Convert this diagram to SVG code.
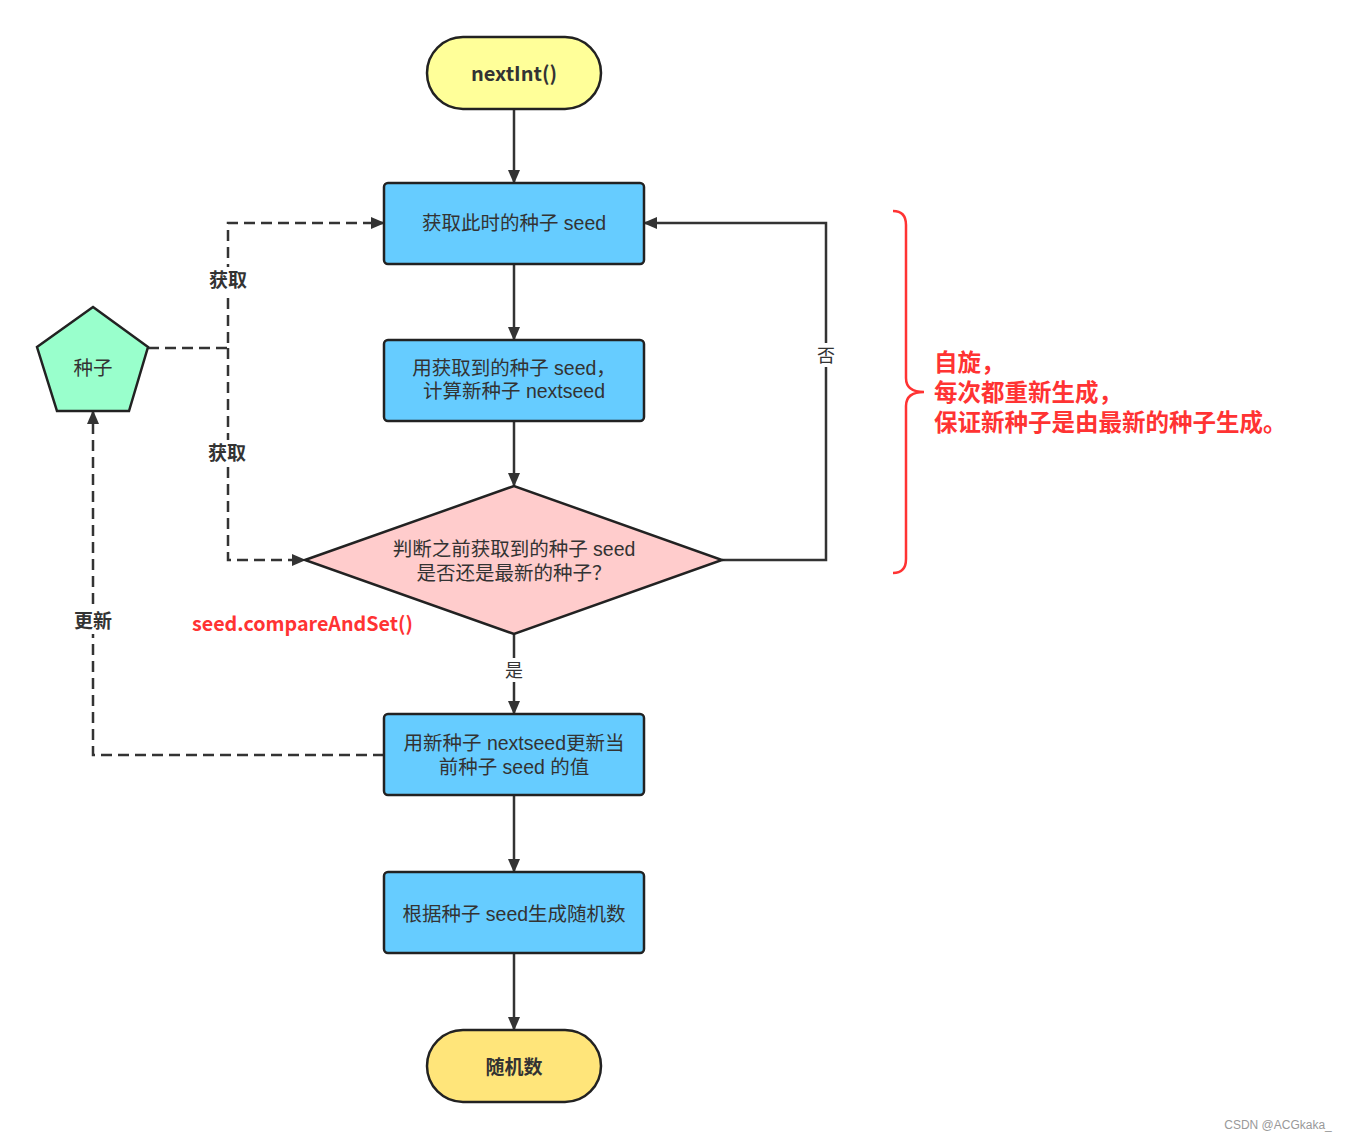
<svg xmlns="http://www.w3.org/2000/svg" width="1350" height="1140" viewBox="0 0 1350 1140">
<defs>
<marker id="ah" viewBox="0 0 14 12" refX="13" refY="6" markerWidth="14" markerHeight="12" markerUnits="userSpaceOnUse" orient="auto">
<path d="M0,0 L14,6 L0,12 Z" fill="#333"/>
</marker>
<style>
text{font-family:"Liberation Sans","Noto Sans CJK SC",sans-serif;fill:#333;text-anchor:middle}
.t{font-size:19.5px}
.b{font-weight:bold;font-size:19px}
.box{fill:#66ccff;stroke:#222;stroke-width:2.5}
.ln{fill:none;stroke:#333;stroke-width:2.5}
.dl{fill:none;stroke:#333;stroke-width:2.5;stroke-dasharray:11 6}
.lbl{font-size:18px}
.red{fill:#ff3333;font-weight:bold;text-anchor:start}
</style>
</defs>
<rect width="1350" height="1140" fill="#fff"/>
<g id="connectors">
<path class="ln" d="M514,109 V183" marker-end="url(#ah)"/>
<path class="ln" d="M514,264 V340" marker-end="url(#ah)"/>
<path class="ln" d="M514,421 V486" marker-end="url(#ah)"/>
<path class="ln" d="M514,634 V714" marker-end="url(#ah)"/>
<path class="ln" d="M514,795 V872" marker-end="url(#ah)"/>
<path class="ln" d="M514,953 V1030" marker-end="url(#ah)"/>
<path class="ln" d="M722,560 H826 V223 H644" marker-end="url(#ah)"/>
<path class="dl" d="M148,348 H228 V223 H384" marker-end="url(#ah)"/>
<path class="dl" d="M228,348 V560 H305" marker-end="url(#ah)"/>
<path class="dl" d="M384,755 H93 V411" marker-end="url(#ah)"/>
<rect x="816" y="343" width="20" height="24" fill="#fff"/>
<text class="lbl" x="826" y="362">否</text>
<rect x="504" y="658" width="20" height="24" fill="#fff"/>
<text class="lbl" x="514" y="677">是</text>
<rect x="208" y="267" width="40" height="26" fill="#fff"/>
<text class="b" x="228" y="287">获取</text>
<rect x="207" y="440" width="40" height="26" fill="#fff"/>
<text class="b" x="227" y="460">获取</text>
<rect x="73" y="608" width="40" height="26" fill="#fff"/>
<text class="b" x="93" y="628">更新</text>
</g>
<g id="start">
<rect x="427" y="37" width="174" height="72" rx="36" fill="#ffff99" stroke="#222" stroke-width="2.5"/>
<text class="b" x="514" y="81" style="font-family:'Noto Sans CJK SC',sans-serif;font-size:20px">nextInt()</text>
</g>
<g id="get-seed">
<rect class="box" x="384" y="183" width="260" height="81" rx="4"/>
<text class="t" x="514" y="230">获取此时的种子 seed</text>
</g>
<g id="calc-next">
<rect class="box" x="384" y="340" width="260" height="81" rx="4"/>
<text class="t" x="514" y="375">用获取到的种子 seed，</text>
<text class="t" x="514" y="398">计算新种子 nextseed</text>
</g>
<g id="decision">
<polygon points="305,560 514,486 722,560 514,634" fill="#ffcccc" stroke="#222" stroke-width="2.5"/>
<text class="t" x="514" y="556">判断之前获取到的种子 seed</text>
<text class="t" x="514" y="580">是否还是最新的种子？</text>
</g>
<g id="update">
<rect class="box" x="384" y="714" width="260" height="81" rx="4"/>
<text class="t" x="514" y="750">用新种子 nextseed更新当</text>
<text class="t" x="514" y="774">前种子 seed 的值</text>
</g>
<g id="generate">
<rect class="box" x="384" y="872" width="260" height="81" rx="4"/>
<text class="t" x="514" y="921">根据种子 seed生成随机数</text>
</g>
<g id="end">
<rect x="427" y="1030" width="174" height="72" rx="36" fill="#ffe57a" stroke="#222" stroke-width="2.5"/>
<text class="b" x="514" y="1074">随机数</text>
</g>
<g id="seed">
<polygon points="93,307 148,347 129,411 57,411 37,347" fill="#99ffcc" stroke="#222" stroke-width="2.5"/>
<text class="t" x="93" y="375">种子</text>
</g>
<g id="annotations">
<text class="red" x="192" y="631" style="font-family:'Noto Sans CJK SC',sans-serif;font-size:19.7px">seed.compareAndSet()</text>
<path d="M893,211 Q906,211 906,225 V378 Q906,392 924,392 Q906,392 906,406 V559 Q906,573 893,573" fill="none" stroke="#ff3333" stroke-width="2.5"/>
<text class="red" x="934" y="371" style="font-size:23.5px">自旋，</text>
<text class="red" x="934" y="401" style="font-size:23.5px">每次都重新生成，</text>
<text class="red" x="934" y="431" style="font-size:23.5px">保证新种子是由最新的种子生成。</text>
<text x="1278" y="1129" style="font-family:'Liberation Sans',sans-serif;font-size:12px;fill:#999">CSDN @ACGkaka_</text>
</g>
</svg>
